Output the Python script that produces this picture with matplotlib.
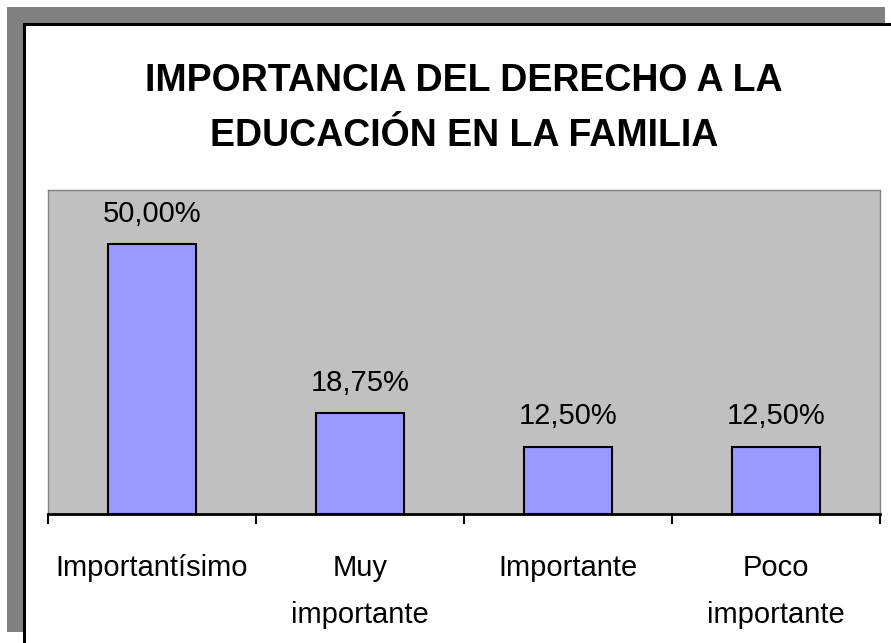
import matplotlib
matplotlib.use("Agg")
import matplotlib.pyplot as plt
from matplotlib.patches import Rectangle

# ---------------------------------------------
# DATA
# ---------------------------------------------
categories = ["Importantísimo", "Muy\nimportante", "Importante", "Poco\nimportante"]
values = [50.00, 18.75, 12.50, 12.50]
value_labels = ["50,00%", "18,75%", "12,50%", "12,50%"]
title_lines = ["IMPORTANCIA DEL DERECHO A LA", "EDUCACIÓN EN LA FAMILIA"]

W, H = 891, 643
plt.rcParams["font.family"] = ["Liberation Sans", "DejaVu Sans"]

fig = plt.figure(figsize=(W / 100, H / 100), dpi=100)

# ---------------------------------------------
# FRAME WITH SHADOW
# ---------------------------------------------
fig.patches.append(Rectangle((7 / W, 1 - 632 / H), 878 / W, 625 / H,
                             transform=fig.transFigure, facecolor="#808080",
                             edgecolor="none", zorder=-3))
fig.patches.append(Rectangle((24 / W, -0.1), 1.2, 1 - 24 / H + 0.1,
                             transform=fig.transFigure, facecolor="white",
                             edgecolor="black", linewidth=2.2, zorder=-2))

# ---------------------------------------------
# PLOT AREA
# ---------------------------------------------
ax = fig.add_axes([48 / W, 1 - 514 / H, 832 / W, 324 / H])
ax.set_zorder(1)
ax.set_facecolor("#C0C0C0")
x = range(len(categories))
ax.bar(x, values, width=0.42, color="#9999FF", edgecolor="black", linewidth=1.5)

# value labels above the bars
for i, v in enumerate(values):
    ax.annotate(value_labels[i], xy=(i, v), xytext=(0, 22),
                textcoords="offset pixels", ha="center", va="baseline",
                fontsize=21)

# category labels, one text per line
for i, cat in enumerate(categories):
    for k, line in enumerate(cat.split("\n")):
        ax.annotate(line, xy=(i, 0), xycoords=("data", "axes fraction"),
                    xytext=(0, -62 - 47 * k), textcoords="offset pixels",
                    ha="center", va="baseline", fontsize=21,
                    annotation_clip=False)

ax.set_xlim(-0.5, len(categories) - 0.5)
ax.set_ylim(0, 60)
ax.set_yticks([])
ax.set_xticks([i - 0.5 for i in range(len(categories) + 1)])
ax.set_xticklabels([])
ax.tick_params(axis="x", length=7, width=1.5, direction="out")

for s in ["top", "left", "right"]:
    ax.spines[s].set_color("#808080")
    ax.spines[s].set_linewidth(1)
ax.spines["bottom"].set_color("black")
ax.spines["bottom"].set_linewidth(2)

# ---------------------------------------------
# TITLE
# ---------------------------------------------
for k, line in enumerate(title_lines):
    fig.text(464 / W, 1 - (91 + 55 * k) / H, line, ha="center", va="baseline",
             fontsize=27, fontweight="bold")

fig.savefig("out.png", dpi=100)
